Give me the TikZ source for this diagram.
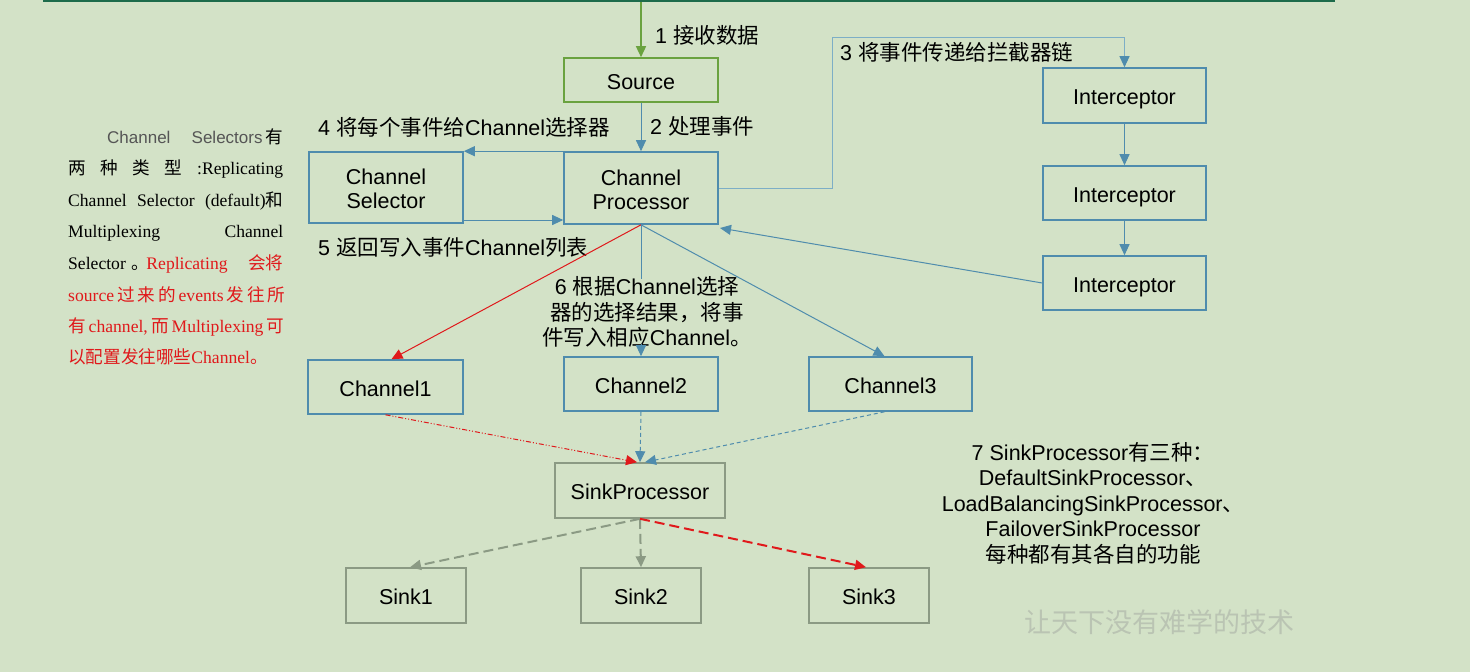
\documentclass[tikz,border=0pt]{standalone}
\usepackage{fontspec}
\setmainfont{Liberation Sans}
\newfontfamily\cjk{Noto Sans CJK SC}
\newfontfamily\tnr{Liberation Serif}
\usetikzlibrary{arrows.meta}
\newcommand\zh[1]{{\cjk #1}}
\newcommand\twoline[2]{\raisebox{-4pt}[\height][\depth]{\begin{tabular}{@{}c@{}}#1\\[-1pt]#2\end{tabular}}}
\definecolor{bg}{HTML}{D3E2C7}
\definecolor{topgreen}{HTML}{1D6B4B}
\definecolor{srcgreen}{HTML}{6AA23F}
\definecolor{lnblue}{HTML}{4F8CAD}
\definecolor{lnlight}{HTML}{7DAEC6}
\definecolor{lnred}{HTML}{E0191B}
\definecolor{lngray}{HTML}{8B9A84}
\definecolor{wm}{HTML}{BAC4B3}
\definecolor{txtgray}{HTML}{555555}
\begin{document}
\begin{tikzpicture}[x=1pt,y=-1pt,
  box/.style={draw=lnblue, line width=1.6pt, align=center, inner sep=0pt,
    font=\fontsize{21.5}{25}\selectfont, text=black},
  one/.style={text height=18pt, text depth=0pt},
  gbox/.style={box, draw=lngray},
  sbox/.style={box, draw=srcgreen},
  lbl/.style={font=\fontsize{21.5}{25.5}\selectfont, inner sep=0pt, text=black},
  para/.style={font=\tnr\fontsize{17.6}{20}\selectfont, inner sep=0pt, anchor=base west},
  tip/.style={-{Triangle[length=11pt,width=10pt]}},
  bl/.style={tip, draw=lnblue, line width=1pt},
  rl/.style={tip, draw=lnred, line width=1pt},
  gl/.style={tip, draw=lngray, line width=2pt, dash pattern=on 10pt off 5pt},
]
\useasboundingbox (0,0) rectangle (1470,672);
\fill[bg] (0,0) rectangle (1470,672);
\draw[topgreen, line width=3.5pt] (43,0.5) -- (1335,0.5);

% nodes
\node[sbox, one, minimum width=154pt, minimum height=44pt] (src) at (641,80) {Source};
\node[box, minimum width=154pt, minimum height=71pt] (sel) at (386,187.5) {\twoline{Channel}{Selector}};
\node[box, minimum width=154pt, minimum height=72pt] (cp) at (641,188) {\twoline{Channel}{Processor}};
\node[box, one, minimum width=163pt, minimum height=55pt] (i1) at (1124.5,95.5) {Interceptor};
\node[box, one, minimum width=163pt, minimum height=54pt] (i2) at (1124.5,193) {Interceptor};
\node[box, one, minimum width=163pt, minimum height=54pt] (i3) at (1124.5,283) {Interceptor};
\node[box, one, minimum width=155pt, minimum height=54pt] (c1) at (385.5,387) {Channel1};
\node[box, one, minimum width=154pt, minimum height=54pt] (c2) at (641,384) {Channel2};
\node[box, one, minimum width=163pt, minimum height=54pt] (c3) at (890.5,384) {Channel3};
\node[gbox, one, minimum width=170pt, minimum height=55pt] (sp) at (640,490.5) {SinkProcessor};
\node[gbox, one, minimum width=120pt, minimum height=55pt] (k1) at (406,595.5) {Sink1};
\node[gbox, one, minimum width=120pt, minimum height=55pt] (k2) at (641,595.5) {Sink2};
\node[gbox, one, minimum width=120pt, minimum height=55pt] (k3) at (869,595.5) {Sink3};

% labels
\node[lbl, anchor=west] (l1) at (655,35) {1 \zh{接收数据}};
\node[lbl, anchor=west] (l2) at (650,126) {2 \zh{处理事件}};
\node[lbl, anchor=west] (l3) at (840,52) {3 \zh{将事件传递给拦截器链}};
\node[lbl, anchor=west] (l4) at (318,127) {4 \zh{将每个事件给}Channel\zh{选择器}};
\node[lbl, anchor=west] (l5) at (318,247) {5 \zh{返回写入事件}Channel\zh{列表}};
\node[lbl, align=center] (l6) at (647,312)
  {6 \zh{根据}Channel\zh{选择}\\\zh{器的选择结果，将事}\\\zh{件写入相应}Channel\zh{。}};
\node[lbl, align=center] (l7) at (1093,503)
  {7 SinkProcessor\zh{有三种：}\\DefaultSinkProcessor\zh{、}\\LoadBalancingSinkProcessor\zh{、}\\FailoverSinkProcessor\\\zh{每种都有其各自的功能}};

% coordinates
\coordinate (top) at (641,2);
\coordinate (c3a) at (832,37);
\coordinate (cpin) at (720,228);

% connectors
\draw[tip, draw=srcgreen, line width=1.5pt] (top) -- (src.north);
\draw[bl] (src.south) -- (cp.north);
\draw[-{Triangle[length=11pt,width=10pt,color=lnblue]}, draw=lnlight, line width=1pt] (cp.east) -| (c3a) -| (i1.north);
\draw[bl] (i1.south) -- (i2.north);
\draw[bl] (i2.south) -- (i3.north);
\draw[bl] (i3.west) -- (cpin);
\draw[bl] (cp.north west) -- (sel.north east);
\draw[bl] (sel.east |- 0,220) -- (cp.west |- 0,220);
\draw[rl] (cp.south) -- ([xshift=6pt]c1.north);
\draw[bl] (cp.south) -- ([yshift=-3pt]cp.south |- l6.north) ([yshift=4pt]c2.north |- l6.south) -- (c2.north);
\draw[bl] (cp.south) -- ([xshift=-6pt]c3.north);
\draw[rl, dash pattern=on 5pt off 2pt on 1pt off 2pt on 1pt off 2pt] (c1.south) -- ([xshift=-3pt]sp.north);
\draw[bl, dash pattern=on 4pt off 3pt] (c2.south) -- (sp.north);
\draw[bl, dash pattern=on 4pt off 3pt] ([xshift=-6pt]c3.south) -- ([xshift=5pt]sp.north);
\draw[gl] (sp.south) -- ([xshift=4pt]k1.north);
\draw[gl] (sp.south) -- (k2.north);
\draw[gl, draw=lnred] (sp.south) -- ([xshift=-3pt]k3.north);

% left paragraph
\node[para] (p1) at (68,143) {\makebox[215pt][s]{\hspace*{39pt}{\rmfamily\fontsize{17}{20}\selectfont\color{txtgray}Channel Selectors}\hspace*{3pt}\zh{有}}};
\node[para] (p2) at (68,174) {\makebox[215pt][s]{\zh{两} \zh{种} \zh{类} \zh{型} :Replicating}};
\node[para] (p3) at (68,206) {\makebox[215pt][s]{Channel Selector (default)\zh{和}}};
\node[para] (p4) at (68,237) {\makebox[215pt][s]{Multiplexing Channel}};
\node[para] (p5) at (68,269) {\makebox[215pt][s]{Selector\hspace*{6pt}\zh{。}\hspace*{-3pt}\color{lnred}Replicating \zh{会将}}};
\node[para, text=lnred] (p6) at (68,301) {\makebox[215pt][s]{source \zh{过} \zh{来} \zh{的} events \zh{发} \zh{往} \zh{所}}};
\node[para, text=lnred] (p7) at (68,332) {\makebox[215pt][s]{\zh{有} channel, \zh{而} Multiplexing \zh{可}}};
\node[para, text=lnred] (p8) at (68,363) {\zh{以配置发往哪些}Channel\zh{。}};

% watermark
\node[font=\cjk\fontsize{27}{30}\selectfont, text=wm, inner sep=0pt] (wm) at (1159,622) {让天下没有难学的技术};
\end{tikzpicture}
\end{document}
